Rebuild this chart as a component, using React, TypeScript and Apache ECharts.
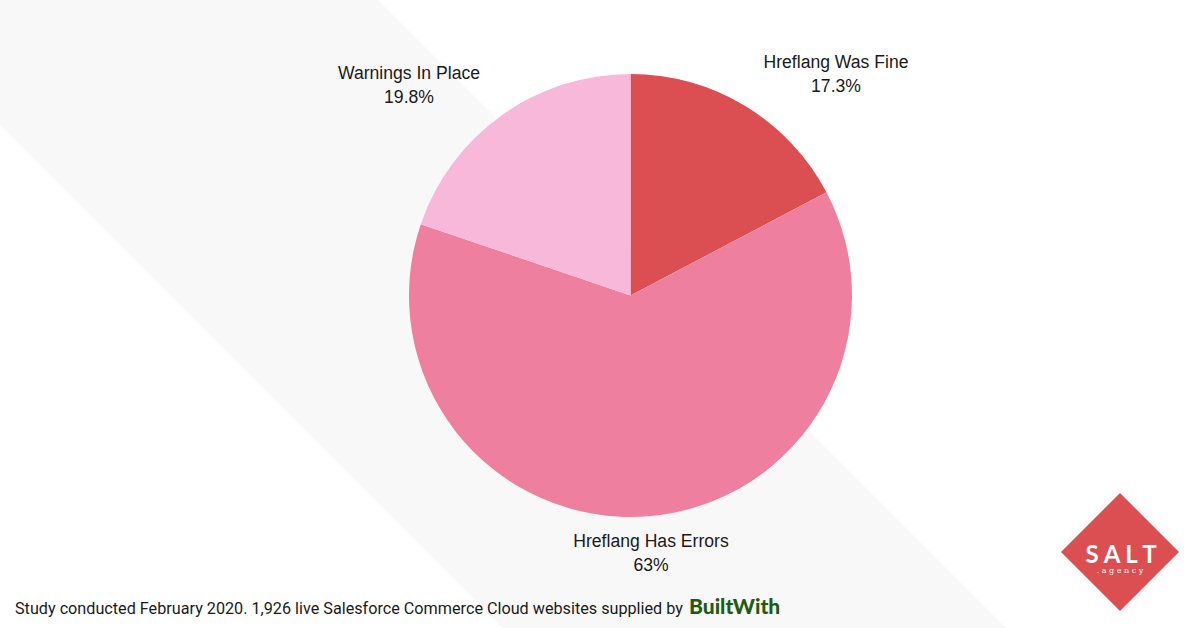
import React, { useEffect, useRef } from "react";
import * as echarts from "echarts";

const categories = ["Hreflang Was Fine", "Hreflang Has Errors", "Warnings In Place"];
const values = [17.3, 63, 19.8];
const valueLabels = ["17.3%", "63%", "19.8%"];
const colors = ["#db4e51", "#ef7f9e", "#f7b8d9"];
const labelPositions: [number, number][] = [
  [836, 74],
  [651, 553],
  [409, 85],
];
const footnote =
  "Study conducted February 2020. 1,926 live Salesforce Commerce Cloud websites supplied by";

export default function App() {
  const ref = useRef<HTMLDivElement>(null);
  useEffect(() => {
    document.body.style.margin = "0";
    if (!ref.current) return;
    const chart = echarts.init(ref.current, null, { renderer: "svg" });
    chart.setOption({
      animation: false,
      backgroundColor: "#ffffff",
      graphic: [
        {
          type: "polygon",
          z: -10,
          silent: true,
          shape: {
            points: [
              [0, 0],
              [378, 0],
              [1006, 628],
              [503, 628],
              [0, 125],
            ],
          },
          style: { fill: "#f8f8f8" },
        },
        {
          type: "text",
          left: 15,
          top: 600,
          style: {
            text: footnote,
            fontFamily: "Roboto",
            fontSize: 16.2,
            fill: "#1a1a1a",
          },
        },
        {
          type: "text",
          left: 689,
          top: 595,
          style: {
            text: "BuiltWith",
            fontFamily: "Lato",
            fontWeight: 900,
            fontSize: 21,
            fill: "#1f5c12",
          },
        },
        {
          type: "polygon",
          shape: {
            points: [
              [1120, 493],
              [1179, 552],
              [1120, 611],
              [1061, 552],
            ],
          },
          style: { fill: "#db4e51" },
        },
        {
          type: "text",
          x: 1121,
          y: 553,
          style: {
            text: "S A L T",
            fontFamily: "Lato",
            fontWeight: 700,
            fontSize: 24,
            fill: "#ffffff",
            align: "center",
            verticalAlign: "middle",
          },
        },
        {
          type: "text",
          x: 1120,
          y: 570,
          style: {
            text: ". a g e n c y",
            fontFamily: "DejaVu Serif",
            fontSize: 8,
            fill: "#ffffff",
            align: "center",
            verticalAlign: "middle",
          },
        },
      ],
      series: [
        {
          type: "pie",
          center: [630.5, 295.5],
          radius: [0, 221.5],
          startAngle: 90,
          clockwise: true,
          silent: true,
          data: categories.map((name, i) => ({
            name,
            value: values[i],
            itemStyle: { color: colors[i] },
          })),
          label: {
            show: true,
            position: "outside",
            formatter: (p: any) => `${p.name}\n${valueLabels[p.dataIndex]}`,
            fontFamily: "Liberation Sans",
            fontSize: 17.6,
            lineHeight: 24,
            color: "#1a1a1a",
            align: "center",
          },
          labelLine: { show: false },
          labelLayout: (params: any) => ({
            x: labelPositions[params.dataIndex][0],
            y: labelPositions[params.dataIndex][1],
            align: "center",
            verticalAlign: "middle",
          }),
        },
      ],
    });
    return () => chart.dispose();
  }, []);
  return <div ref={ref} style={{ width: 1200, height: 628 }} />;
}
